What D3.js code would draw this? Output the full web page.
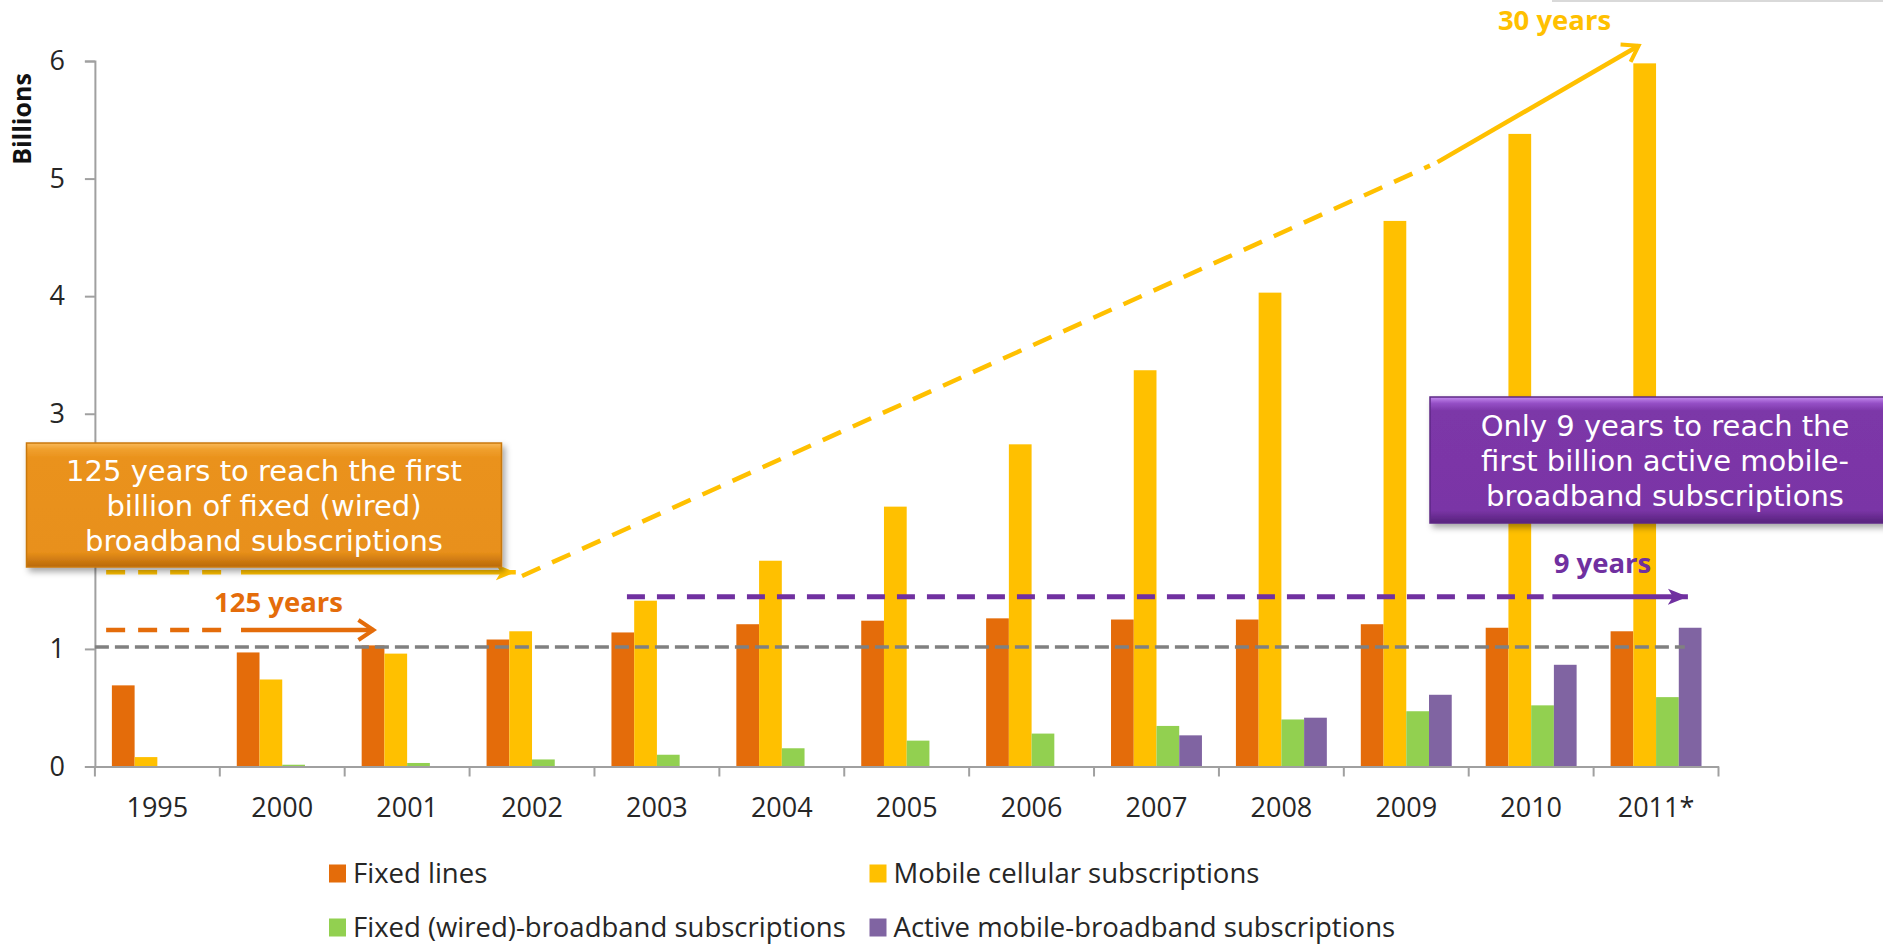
<!DOCTYPE html>
<html>
<head>
<meta charset="utf-8">
<script src="https://cdn.jsdelivr.net/npm/d3@7"></script>
<style>
  html, body { margin: 0; padding: 0; background: #fff; overflow: hidden; }
  svg { display: block; }
</style>
</head>
<body>
<svg width="1883" height="944"></svg>
<script>
// Categories and series (billions)
const categories = ["1995", "2000", "2001", "2002", "2003", "2004", "2005", "2006", "2007", "2008", "2009", "2010", "2011*"];
const fixedLines = [0.69, 0.97, 1.03, 1.08, 1.14, 1.21, 1.24, 1.26, 1.25, 1.25, 1.21, 1.18, 1.15];
const mobileCellular = [0.08, 0.74, 0.96, 1.15, 1.41, 1.75, 2.21, 2.74, 3.37, 4.03, 4.64, 5.38, 5.98];
const fixedBroadband = [0, 0.015, 0.03, 0.06, 0.10, 0.155, 0.22, 0.28, 0.345, 0.40, 0.47, 0.52, 0.59];
const mobileBroadband = [0, 0, 0, 0, 0, 0, 0, 0, 0.265, 0.415, 0.61, 0.865, 1.18];
const seriesNames = ["Fixed lines", "Mobile cellular subscriptions", "Fixed (wired)-broadband subscriptions", "Active mobile-broadband subscriptions"];
const seriesColors = ["#E46C0A", "#FFC000", "#92D050", "#8064A2"];
const yTicks = [0, 1, 2, 3, 4, 5, 6];

const seriesValues = [fixedLines, mobileCellular, fixedBroadband, mobileBroadband];
const data = categories.map((c, i) => ({
    cat: c,
    values: seriesNames.map((s, k) => ({ key: s, color: seriesColors[k], value: seriesValues[k][i] }))
}));

const svg = d3.select("svg");
const plotLeft = 94.9, plotRight = 1718.5, plotTop = 61, plotBottom = 766.5;
const tickFont = "'Open Sans', 'Liberation Sans', sans-serif";
const boxFont = "'DejaVu Sans', Verdana, sans-serif";

// Scales
const x0 = d3.scaleBand().domain(categories).range([plotLeft, plotRight]).padding(0);
const x1 = d3.scaleBand().domain(seriesNames)
    .range([x0.bandwidth() * 0.136, x0.bandwidth() * 0.864]);
const y = d3.scaleLinear().domain([0, 6]).range([plotBottom, plotTop]);
// position along the category axis in "category units" (for annotations)
const xi = d3.scaleLinear().domain([0, categories.length]).range([plotLeft, plotRight]);

// defs: shadows, gradients, arrow markers
const defs = svg.append("defs");
const shadow = defs.append("filter").attr("id", "shadow")
    .attr("x", "-10%").attr("y", "-10%").attr("width", "130%").attr("height", "140%");
shadow.append("feDropShadow").attr("dx", 3).attr("dy", 4).attr("stdDeviation", 3)
    .attr("flood-color", "#000").attr("flood-opacity", 0.35);

function gradient(id, stops) {
    const g = defs.append("linearGradient").attr("id", id)
        .attr("x1", 0).attr("y1", 0).attr("x2", 0).attr("y2", 1);
    stops.forEach(s => g.append("stop").attr("offset", s[0]).attr("stop-color", s[1]));
}
gradient("orangeFill", [["0%", "#F9B95A"], ["5%", "#F0A02E"], ["12%", "#EA921C"], ["88%", "#E8901A"], ["100%", "#B9690B"]]);
gradient("purpleFill", [["0%", "#C58BF0"], ["5%", "#9550C6"], ["11%", "#7C37A8"], ["90%", "#7A35A6"], ["100%", "#57237C"]]);

function marker(id, color, filled) {
    const m = defs.append("marker").attr("id", id)
        .attr("markerUnits", "userSpaceOnUse")
        .attr("viewBox", "0 -12 24 24")
        .attr("refX", filled ? 20 : 19).attr("refY", 0)
        .attr("markerWidth", 24).attr("markerHeight", 24)
        .attr("orient", "auto");
    if (filled) {
        m.append("path").attr("d", "M0,-8L20,0L0,8L5,0Z").attr("fill", color);
    } else {
        m.append("path").attr("d", "M4,-10L19,0L4,10")
            .attr("fill", "none").attr("stroke", color).attr("stroke-width", 4)
            .attr("stroke-linejoin", "miter");
    }
}
marker("arrOrange", "#E46C0A", false);
marker("arrYellowBox", "#FFC000", true);
marker("arrYellow", "#FFC000", false);
marker("arrPurple", "#7030A0", true);

// faint shadow line at the top right
svg.append("rect").attr("x", 1552).attr("y", 0).attr("width", 331).attr("height", 2)
    .attr("fill", "#d9d9d9");

// Bars
const groups = svg.append("g").selectAll("g")
    .data(data).join("g")
    .attr("transform", d => `translate(${x0(d.cat)},0)`);
groups.selectAll("rect")
    .data(d => d.values).join("rect")
    .attr("x", d => x1(d.key))
    .attr("width", x1.bandwidth())
    .attr("y", d => y(d.value))
    .attr("height", d => y(0) - y(d.value))
    .attr("fill", d => d.color);

// Y axis
const yAxis = svg.append("g")
    .attr("transform", `translate(${plotLeft},0)`)
    .call(d3.axisLeft(y).tickValues(yTicks).tickFormat(d3.format("d")).tickSize(10).tickPadding(20));
yAxis.selectAll("path, line").attr("stroke", "#a0a0a0").attr("stroke-width", 2);
yAxis.selectAll("text")
    .style("font-family", tickFont).style("font-size", "27px").attr("fill", "#262626");

// X axis (ticks at category boundaries)
const xAxis = svg.append("g")
    .attr("transform", `translate(0,${plotBottom})`)
    .call(d3.axisBottom(x0).tickSize(0).tickSizeOuter(0));
xAxis.select("path").attr("stroke", "#a0a0a0").attr("stroke-width", 2);
xAxis.selectAll("text")
    .attr("y", 50).attr("dy", null)
    .style("font-family", tickFont).style("font-size", "27px").attr("fill", "#262626");
xAxis.selectAll(".boundary")
    .data(d3.range(categories.length + 1)).join("line")
    .attr("class", "boundary")
    .attr("x1", d => xi(d)).attr("x2", d => xi(d))
    .attr("y1", 0).attr("y2", 10)
    .attr("stroke", "#a0a0a0").attr("stroke-width", 2);

// Y axis title
svg.append("text")
    .attr("transform", "translate(31,119) rotate(-90)")
    .attr("text-anchor", "middle")
    .style("font-family", tickFont).style("font-size", "25px").style("font-weight", "bold")
    .attr("fill", "#111")
    .text("Billions");

// Reference line at one billion
svg.append("line")
    .attr("x1", xi(0)).attr("x2", xi(12.73))
    .attr("y1", y(1.016)).attr("y2", y(1.016))
    .attr("stroke", "#808080").attr("stroke-width", 3.5)
    .attr("stroke-dasharray", "14 6");

// Annotation arrows: dashed part then solid part with head
function arrow(color, width, dash, dashedPts, solidPts, head) {
    const line = d3.line().x(d => xi(d[0])).y(d => y(d[1]));
    svg.append("path").attr("d", line(dashedPts))
        .attr("fill", "none").attr("stroke", color).attr("stroke-width", width)
        .attr("stroke-dasharray", dash);
    svg.append("path").attr("d", line(solidPts))
        .attr("fill", "none").attr("stroke", color).attr("stroke-width", width)
        .attr("marker-end", `url(#${head})`);
}
arrow("#E46C0A", 4.5, "19 13", [[0.09, 1.161], [1.1, 1.161]], [[1.17, 1.161], [2.23, 1.161]], "arrOrange");
arrow("#FFC000", 4.5, "19 13", [[0.09, 1.652], [1.1, 1.652]], [[1.17, 1.652], [3.37, 1.652]], "arrYellowBox");
arrow("#FFC000", 4.5, "20 13", [[3.42, 1.62], [10.69, 5.11]], [[10.75, 5.14], [12.36, 6.13]], "arrYellow");
arrow("#7030A0", 5, "18 12", [[4.26, 1.444], [11.6, 1.444]], [[11.67, 1.444], [12.755, 1.444]], "arrPurple");

// Arrow labels
const arrowLabels = [
    { text: "125 years", x: 278.5, y: 612, color: "#E46C0A" },
    { text: "9 years", x: 1602.5, y: 573, color: "#7030A0" },
    { text: "30 years", x: 1554.5, y: 30, color: "#FFC000" }
];
svg.selectAll(".arrowLabel")
    .data(arrowLabels).join("text")
    .attr("class", "arrowLabel")
    .attr("x", d => d.x).attr("y", d => d.y)
    .attr("text-anchor", "middle")
    .style("font-family", tickFont).style("font-size", "27.5px").style("font-weight", "bold")
    .attr("fill", d => d.color)
    .text(d => d.text);

// Callout boxes
function callout(x, yTop, w, h, fill, stroke, lines, cx, baselines) {
    svg.append("rect")
        .attr("x", x).attr("y", yTop).attr("width", w).attr("height", h)
        .attr("fill", `url(#${fill})`).attr("stroke", stroke).attr("stroke-width", 1.5)
        .attr("filter", "url(#shadow)");
    svg.append("g").selectAll("text")
        .data(lines).join("text")
        .attr("x", cx).attr("y", (d, i) => baselines[i])
        .attr("text-anchor", "middle")
        .style("font-family", boxFont).style("font-size", "29px")
        .attr("fill", "#fff")
        .text(d => d);
}
callout(26.5, 443, 475, 124, "orangeFill", "#C9780E",
    ["125 years to reach the first", "billion of fixed (wired)", "broadband subscriptions"],
    264, [481, 516, 551]);
callout(1430, 397, 470, 126, "purpleFill", "#5E2A85",
    ["Only 9 years to reach the", "first billion active mobile-", "broadband subscriptions"],
    1665, [436, 471, 506]);

// Legend
const legendItems = seriesNames.map((s, k) => ({
    name: s, color: seriesColors[k],
    x: k % 2 === 0 ? 329 : 869.5,
    y: k < 2 ? 882.5 : 936.5
}));
const legend = svg.append("g").selectAll("g")
    .data(legendItems).join("g")
    .attr("transform", d => `translate(${d.x},${d.y})`);
legend.append("rect")
    .attr("x", 0).attr("y", -18).attr("width", 17).attr("height", 18)
    .attr("fill", d => d.color);
legend.append("text")
    .attr("x", 24).attr("y", 0)
    .style("font-family", tickFont).style("font-size", "27.5px")
    .attr("fill", "#262626")
    .text(d => d.name);
</script>
</body>
</html>
